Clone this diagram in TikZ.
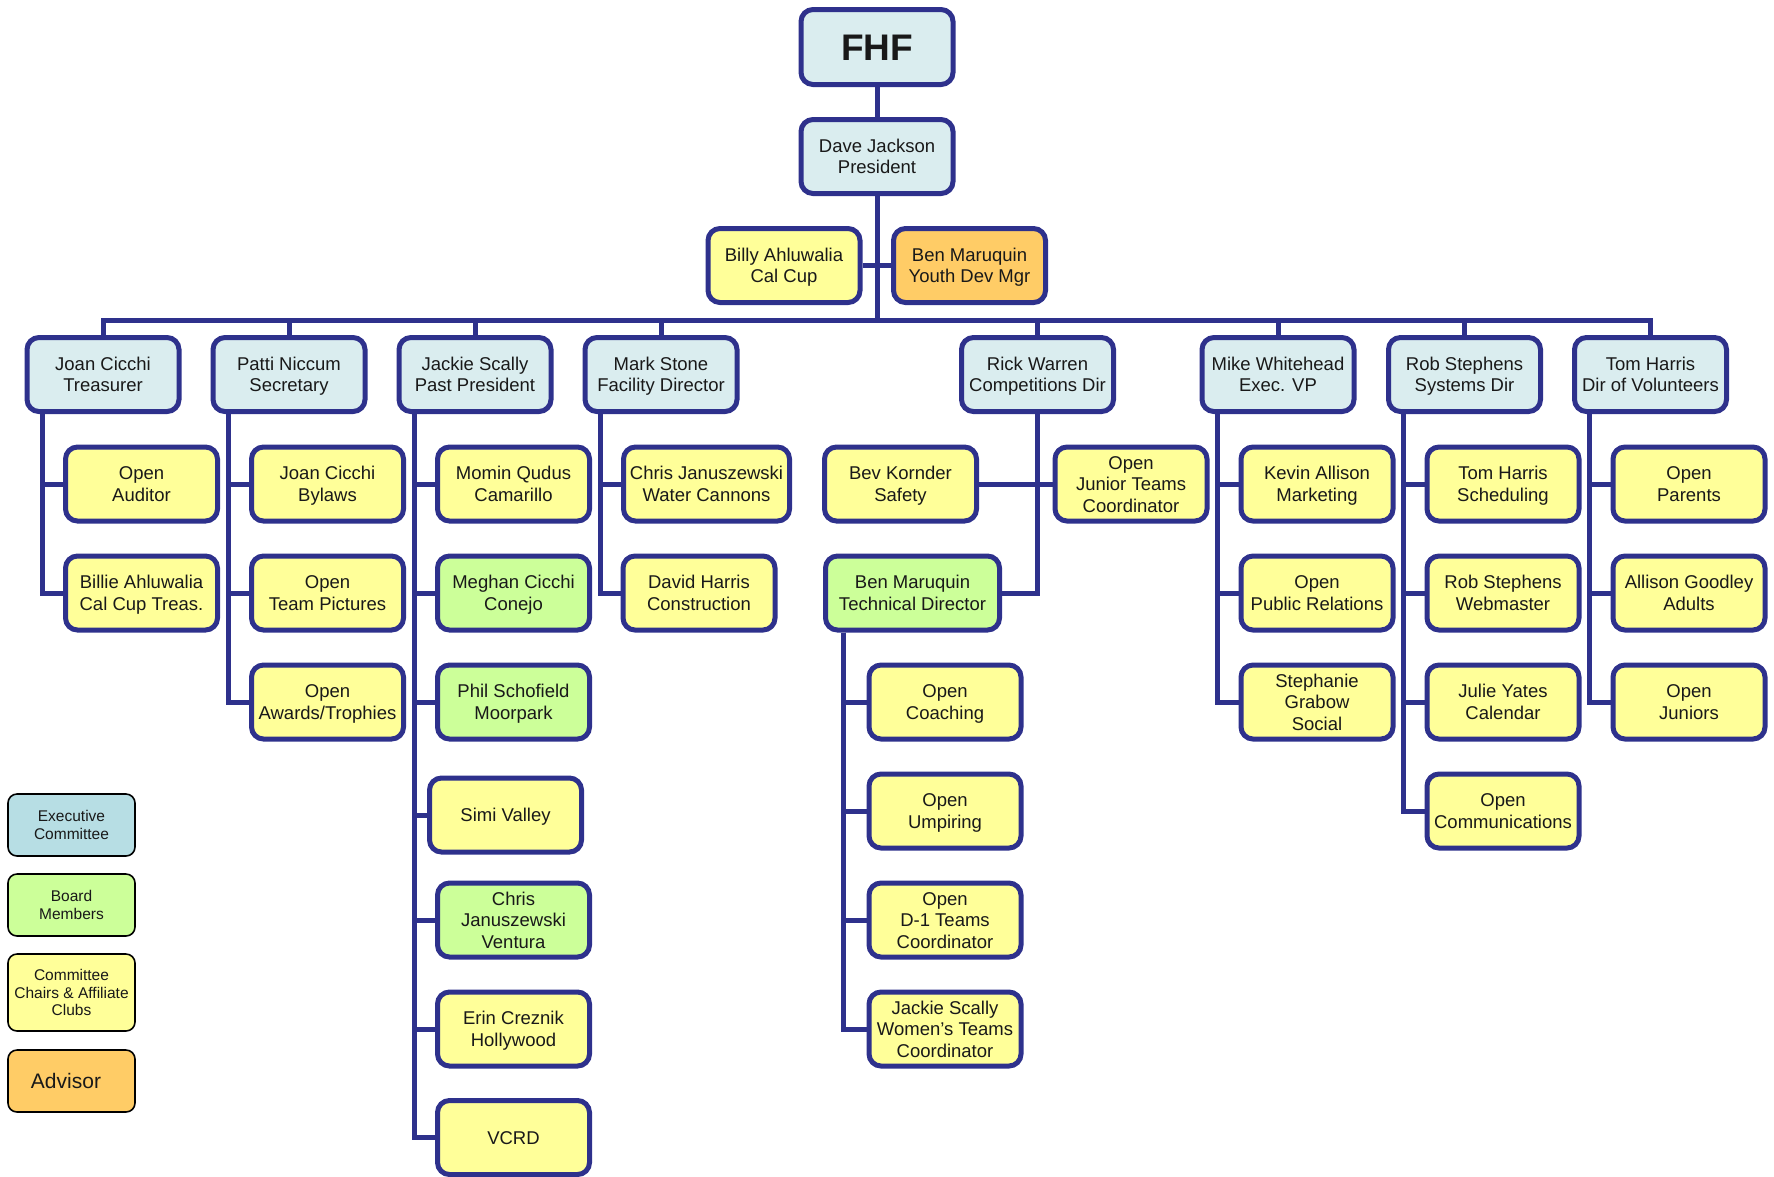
\documentclass[tikz,border=0pt]{standalone}
\usepackage{fontspec}
\setmainfont{Liberation Sans}
\definecolor{edgec}{RGB}{46,49,140}
\definecolor{execc}{RGB}{218,237,239}
\definecolor{execleg}{RGB}{183,222,228}
\definecolor{boardc}{RGB}{204,255,153}
\definecolor{chairc}{RGB}{255,255,153}
\definecolor{advisc}{RGB}{255,204,102}
\newcommand\vs{\rule[-0.3em]{0pt}{1.316em}}
\begin{document}
\begin{tikzpicture}[x=1pt,y=-1pt,
 box/.style={draw=edgec,line width=5pt,rounded corners=12pt,minimum width=152pt,minimum height=74pt,align=center,inner sep=2pt,font=\fontsize{18.5}{21.5}\selectfont,text=black!90,execute at end node=\vs},
 ex/.style={box,fill=execc}, bd/.style={box,fill=boardc}, ch/.style={box,fill=chairc}, ad/.style={box,fill=advisc},
 conn/.style={draw=edgec,line width=5pt},
 leg/.style={draw=black,line width=1.6pt,rounded corners=9pt,minimum width=127pt,minimum height=62pt,align=center,font=\fontsize{15.5}{17.5}\selectfont,inner sep=1pt,text=black!90,execute at end node=\vs}]
\useasboundingbox (0,0) rectangle (1774,1176);

% top
\node[ex,font=\bfseries\fontsize{37}{40}\selectfont,minimum height=75pt] (fhf) at (877,47) {\vs FHF};
\node[ex] (dave) at (877,156.5) {\vs Dave Jackson\\President};
\node[ch] (billy) at (784,265.5) {\vs Billy Ahluwalia\\Cal Cup};
\node[ad] (benyd) at (969.5,265.5) {\vs Ben Maruquin\\Youth Dev Mgr};

% level 2
\node[ex] (joan) at (103,374.5) {\vs Joan Cicchi\\Treasurer};
\node[ex] (patti) at (289,374.5) {\vs Patti Niccum\\Secretary};
\node[ex] (jackie) at (475,374.5) {\vs Jackie Scally\\Past President};
\node[ex] (mark) at (661,374.5) {\vs Mark Stone\\Facility Director};
\node[ex] (rick) at (1037.5,374.5) {\vs Rick Warren\\Competitions Dir};
\node[ex] (mike) at (1278,374.5) {\vs Mike Whitehead\\Exec. VP};
\node[ex] (rob) at (1464.5,374.5) {\vs Rob Stephens\\Systems Dir};
\node[ex] (tom) at (1650.5,374.5) {\vs Tom Harris\\Dir of Volunteers};

% Joan children
\node[ch] (aud) at (141.5,484) {\vs Open\\Auditor};
\node[ch] (billie) at (141.5,593) {\vs Billie Ahluwalia\\Cal Cup Treas.};
% Patti children
\node[ch] (bylaws) at (327.5,484) {\vs Joan Cicchi\\Bylaws};
\node[ch] (pics) at (327.5,593) {\vs Open\\Team Pictures};
\node[ch] (awards) at (327.5,702) {\vs Open\\Awards/Trophies};
% Jackie children
\node[ch] (momin) at (513.5,484) {\vs Momin Qudus\\Camarillo};
\node[bd] (meghan) at (513.5,593) {\vs Meghan Cicchi\\Conejo};
\node[bd] (phil) at (513.5,702) {\vs Phil Schofield\\Moorpark};
\node[ch] (simi) at (505.5,815) {\vs Simi Valley};
\node[bd] (chrisv) at (513.5,920) {\vs Chris\\Januszewski\\Ventura};
\node[ch] (erin) at (513.5,1029) {\vs Erin Creznik\\Hollywood};
\node[ch] (vcrd) at (513.5,1137.5) {\vs VCRD};
% Mark children
\node[ch,minimum width=166pt] (cjw) at (706.5,484) {\vs Chris Januszewski\\Water Cannons};
\node[ch] (dharris) at (699,593) {\vs David Harris\\Construction};
% Rick children
\node[ch] (bev) at (900.5,484) {\vs Bev Kornder\\Safety};
\node[ch] (junior) at (1131,484) {\vs Open\\Junior Teams\\Coordinator};
\node[bd,minimum width=174pt] (bentd) at (912.5,593) {\vs Ben Maruquin\\Technical Director};
\node[ch] (coach) at (945,702) {\vs Open\\Coaching};
\node[ch] (ump) at (945,811) {\vs Open\\Umpiring};
\node[ch] (dteams) at (945,920) {\vs Open\\D-1 Teams\\Coordinator};
\node[ch] (women) at (945,1029) {\vs Jackie Scally\\Women’s Teams\\Coordinator};
% Mike children
\node[ch] (kevin) at (1317,484) {\vs Kevin Allison\\Marketing};
\node[ch] (pr) at (1317,593) {\vs Open\\Public Relations};
\node[ch] (steph) at (1317,702) {\vs Stephanie\\Grabow\\Social};
% Rob children
\node[ch] (tomh) at (1503,484) {\vs Tom Harris\\Scheduling};
\node[ch] (robw) at (1503,593) {\vs Rob Stephens\\Webmaster};
\node[ch] (julie) at (1503,702) {\vs Julie Yates\\Calendar};
\node[ch] (comm) at (1503,811) {\vs Open\\Communications};
% Tom children
\node[ch] (parents) at (1689,484) {\vs Open\\Parents};
\node[ch] (allison) at (1689,593) {\vs Allison Goodley\\Adults};
\node[ch] (juniors) at (1689,702) {\vs Open\\Juniors};

% legend
\node[leg,fill=execleg] (lgexec) at (71.5,825) {\vs Executive\\Committee};
\node[leg,fill=boardc] (lgboard) at (71.5,905) {\vs Board\\Members};
\node[leg,fill=chairc,minimum height=77pt] (lgchair) at (71.5,992.5) {\vs Committee\\Chairs \& Affiliate\\Clubs};
\node[leg,fill=advisc,font=\fontsize{21}{24}\selectfont] (lgadv) at (71.5,1081) {\vs Advisor\hspace*{11pt}};

% connectors
\coordinate (busc) at (877,320);
\draw[conn] (fhf.south) -- (dave.north);
\draw[conn] (dave.south) -- (busc);
\draw[conn] (billy.east) -- (benyd.west);
\draw[conn] (joan.north) -- (joan.north |- busc) -- (tom.north |- busc) -- (tom.north);
\foreach \n in {patti,jackie,mark,rick,mike,rob}
  \draw[conn] (\n.north) -- (\n.north |- busc);

\foreach \c in {aud,billie}
  \draw[conn] ([xshift=-61pt]joan.south) |- (\c.west);
\foreach \c in {bylaws,pics,awards}
  \draw[conn] ([xshift=-61pt]patti.south) |- (\c.west);
\foreach \c in {momin,meghan,phil,simi,chrisv,erin,vcrd}
  \draw[conn] ([xshift=-61pt]jackie.south) |- (\c.west);
\foreach \c in {cjw,dharris}
  \draw[conn] ([xshift=-61pt]mark.south) |- (\c.west);
\draw[conn] (rick.south) |- (bentd.east);
\draw[conn] (bev.east) -- (junior.west);
\foreach \c in {coach,ump,dteams,women}
  \draw[conn] ([xshift=-69.5pt]bentd.south) |- (\c.west);
\foreach \c in {kevin,pr,steph}
  \draw[conn] ([xshift=-61pt]mike.south) |- (\c.west);
\foreach \c in {tomh,robw,julie,comm}
  \draw[conn] ([xshift=-61pt]rob.south) |- (\c.west);
\foreach \c in {parents,allison,juniors}
  \draw[conn] ([xshift=-61pt]tom.south) |- (\c.west);
\end{tikzpicture}
\end{document}
